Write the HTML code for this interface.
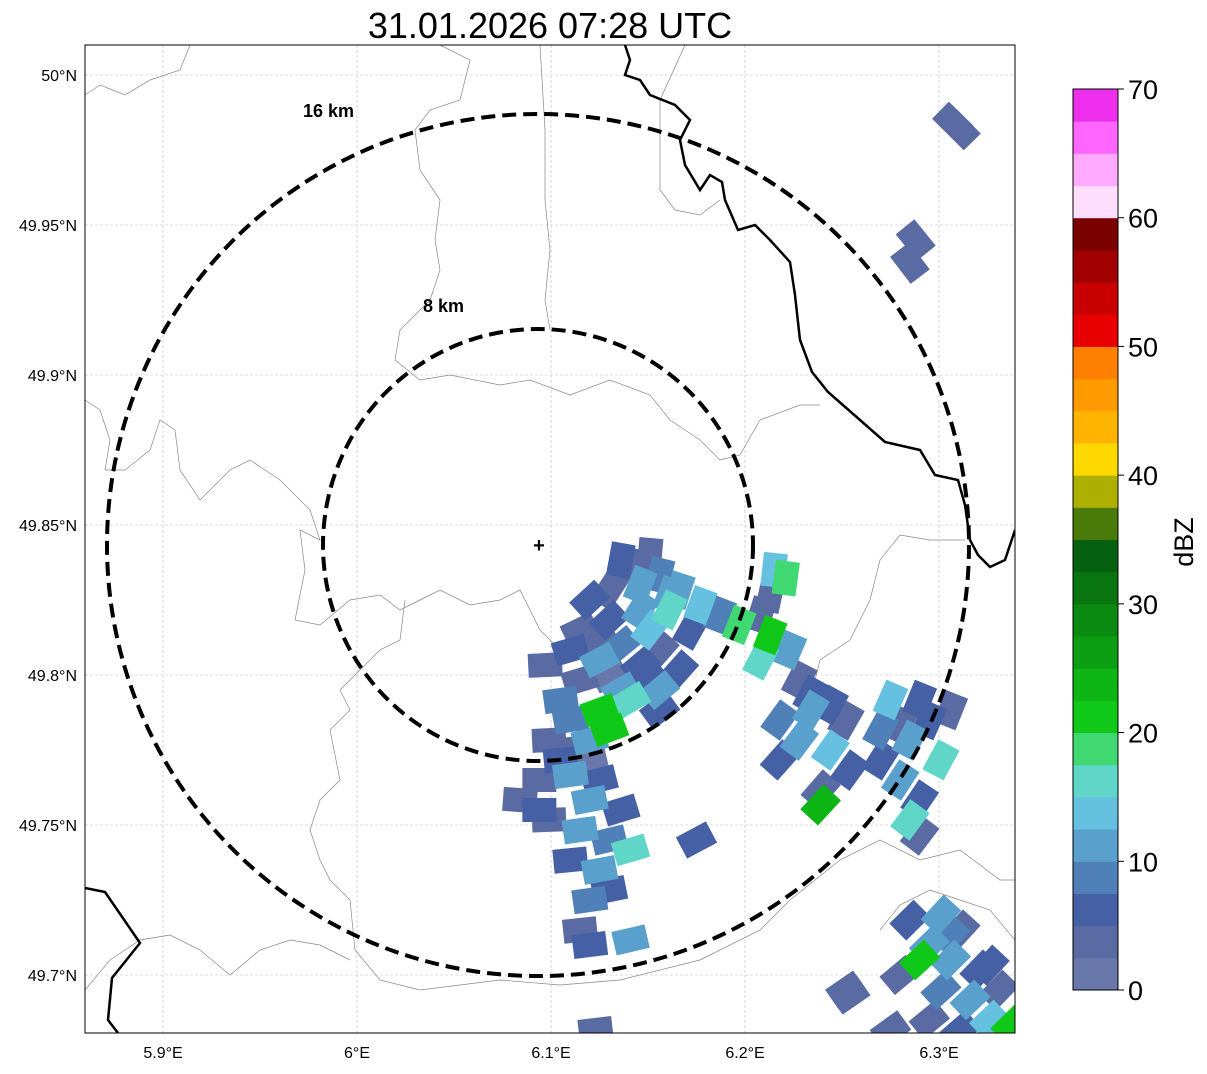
<!DOCTYPE html>
<html><head><meta charset="utf-8"><style>
body{margin:0;background:#fff;font-family:"Liberation Sans",sans-serif}
</style></head><body>
<svg id="chart" width="1207" height="1069" xmlns="http://www.w3.org/2000/svg" font-family="Liberation Sans, sans-serif">
<text x="550" y="38" text-anchor="middle" font-size="36">31.01.2026 07:28 UTC</text>
<defs><clipPath id="mapclip"><rect x="85" y="45" width="930" height="988"/></clipPath></defs>
<g id="grid"></g>
<g clip-path="url(#mapclip)">
<g fill="none" stroke="#888" stroke-width="0.7">
<polyline points="85,95 100,85 125,95 150,80 180,70 190,45"/>
<polyline points="440,45 470,60 460,100 430,110 415,130 420,170 440,200 435,240 440,270 430,300 400,330 395,360 420,380 450,375 500,385 530,380 570,395 610,380 650,395 670,420 700,440 720,460 740,455 760,420 800,405 820,405"/>
<polyline points="85,400 100,410 110,440 105,470 125,470 150,450 160,420 175,430 180,470 200,500 230,470 250,460 280,480 310,510 320,540 300,530 305,570 295,620 320,625 350,600 380,595 400,610 420,600 440,590 470,605 500,600 520,590 540,630 560,650"/>
<polyline points="405,600 400,640 380,650 340,690 350,710 330,730 340,780 320,800 310,830 320,860 330,880 350,900 355,950 380,980 420,990 460,985 500,980 560,985 620,980 700,960 760,930 790,900 840,860 880,840 920,860 960,850 1000,880 1015,880"/>
<polyline points="540,45 545,130 545,200 550,250 545,300 550,330"/>
<polyline points="85,990 110,960 140,940 170,935 200,950 230,975 260,950 290,940 320,945 350,960"/>
<polyline points="965,540 930,540 900,535 880,560 870,600 850,640 820,660 810,700"/>
<polyline points="1015,940 990,910 960,900 930,890 900,905 880,930"/>
<polyline points="685,45 660,100 660,190 675,210 700,215 720,200"/>
</g>
<g fill="none" stroke="#000" stroke-width="2.5">
<polyline points="625,45 630,60 625,75 640,80 650,95 675,105 690,120 680,140 685,165 700,190 710,175 722,182 725,200 738,230 755,225 770,240 790,262 795,295 800,340 812,372 828,392 860,420 885,442 920,450 935,475 958,480 965,505 970,540 978,555 990,567 1005,560 1015,530"/>
<polyline points="85,888 105,892 140,943 112,978 108,1020 118,1033"/>
</g>
<g id="cells"></g>
<g fill="none" stroke="#000" stroke-width="4" stroke-dasharray="14,7">
<ellipse cx="538" cy="545" rx="215" ry="216"/>
<ellipse cx="538" cy="545" rx="431" ry="431"/>
</g>
<text x="303" y="117" font-size="18" font-weight="bold">16 km</text>
<text x="423" y="312" font-size="18" font-weight="bold">8 km</text>
<text x="539" y="552" text-anchor="middle" font-size="20" font-weight="bold">+</text>
</g>
<rect x="85" y="45" width="930" height="988" fill="none" stroke="#000" stroke-width="1"/>
<g id="axes" font-size="16"></g>
<g id="cbar"></g>
<text transform="translate(1193,542) rotate(-90)" text-anchor="middle" font-size="27">dBZ</text>
</svg>
<script>
const lonTicks=[5.9,6.0,6.1,6.2,6.3];
const lonLabels=["5.9°E","6°E","6.1°E","6.2°E","6.3°E"];
const latTicks=[50,49.95,49.9,49.85,49.8,49.75,49.7];
const latLabels=["50°N","49.95°N","49.9°N","49.85°N","49.8°N","49.75°N","49.7°N"];
const cbTicks=[0,10,20,30,40,50,60,70];
const cbColors=["#6878aa","#5a6aa2","#4660a6","#5080b8","#5aa0cc","#66c0e0","#60d6c8","#40d870","#10c818","#0db515","#0c9e12","#0a8a10","#087510","#056010","#4a7a0a","#aeb000","#ffd800","#ffb400","#ff9a00","#ff7f00","#e80000","#c80000","#a00000","#7a0000","#ffddff","#ffaaff","#ff66ff","#ee30ee"];
const radarLon=6.094, radarLat=49.8433;
const cellLon=[6.136,6.151,6.156,6.146,6.130,6.120,6.166,6.177,6.187,6.161,6.146,6.130,6.115,6.151,6.172,6.136,6.156,6.125,6.146,6.166,6.115,6.136,6.156,6.125,6.141,6.110,6.099,6.120,6.130,6.156,6.105,6.097,
6.141,6.125,6.161,6.110,6.130,6.151,6.105,
6.197,6.213,6.223,6.208,6.228,6.244,6.218,6.228,6.218,6.244,6.254,6.239,6.234,6.252,6.215,6.221,6.213,6.208,6.234,
6.275,6.290,6.306,6.270,6.285,6.301,6.270,6.280,6.290,6.285,6.290,6.239,6.295,6.280,
6.094,6.110,6.125,6.120,6.136,6.099,6.115,6.130,6.141,6.110,6.125,6.130,6.120,6.115,6.120,6.141,6.094,6.084,6.105,6.120,
6.285,6.301,6.311,6.295,6.290,6.306,6.321,6.280,6.301,6.316,6.331,6.326,6.311,6.295,6.275,6.337,6.306,6.326,
6.307,6.311,6.288,6.285,6.175,6.254,6.123,6.252];
const cellLat=[49.8383,49.84,49.8333,49.83,49.8283,49.825,49.8283,49.8233,49.82,49.8217,49.8217,49.8183,49.815,49.815,49.815,49.81,49.8083,49.805,49.8033,49.8017,49.7983,49.795,49.795,49.7883,49.7917,49.785,49.7783,49.7783,49.7817,49.7883,49.775,49.8033,
49.8367,49.8117,49.8267,49.8083,49.8,49.7983,49.7917,
49.8167,49.8133,49.8083,49.805,49.7983,49.79,49.785,49.7783,49.7717,49.775,49.7683,49.7617,49.7883,49.785,49.835,49.8323,49.8267,49.82,49.7933,
49.7917,49.7917,49.7883,49.7817,49.7783,49.7717,49.7717,49.765,49.7583,49.7517,49.7467,49.7567,49.785,49.7833,
49.765,49.7667,49.765,49.7583,49.755,49.7517,49.7483,49.745,49.7417,49.7383,49.735,49.7283,49.725,49.715,49.71,49.7117,49.755,49.7583,49.7717,49.7717,
49.7183,49.72,49.715,49.71,49.705,49.705,49.7017,49.7,49.695,49.6917,49.695,49.685,49.6817,49.685,49.6817,49.6833,49.7133,49.7033,
49.9843,49.9817,49.945,49.9373,49.745,49.6933,49.6817,49.695];
const cellDbz=[5,3,8,12,4,6,10,14,9,16,12,5,4,13,6,8,3,11,7,5,4,10,12,21,15,8,3,12,22,6,4,3,
4,3,11,5,2,6,8,
18,20,10,16,4,5,8,11,5,14,6,3,12,3,14,19,4,3,6,
13,5,3,8,10,16,5,12,6,15,4,24,7,3,
4,11,5,10,6,4,12,8,15,5,11,6,9,4,5,12,5,3,6,2,
5,12,3,10,22,12,5,4,8,12,3,14,5,4,3,20,9,6,
4,3,3,3,5,3,4,3];
const NS="http://www.w3.org/2000/svg";
const X0=85,X1=1015,Y0=45,Y1=1033;
function xs(lon){return 163+(lon-5.9)*1940;}
function ys(lat){return 75+(50-lat)*3000;}
function mk(t,a,p){const e=document.createElementNS(NS,t);for(const k in a)e.setAttribute(k,a[k]);p.appendChild(e);return e;}
const grid=document.getElementById('grid'),axes=document.getElementById('axes');
lonTicks.forEach((v,i)=>{const x=xs(v);
const l=mk('line',{x1:x,x2:x,y1:Y0,y2:Y1,stroke:'#bbb','stroke-width':0.6,'stroke-dasharray':'3,2'},grid);

const t=mk('text',{x:x,y:1058,'text-anchor':'middle'},axes);t.textContent=lonLabels[i];
});
latTicks.forEach((v,i)=>{const y=ys(v);
const l=mk('line',{x1:X0,x2:X1,y1:y,y2:y,stroke:'#bbb','stroke-width':0.6,'stroke-dasharray':'3,2'},grid);

const t=mk('text',{x:77,y:y+6,'text-anchor':'end'},axes);t.textContent=latLabels[i];
});
function colorFor(d){return cbColors[Math.max(0,Math.min(27,Math.floor(d/2.5)))];}
const cells=document.getElementById('cells');
const order=cellDbz.map((d,i)=>i).sort((a,b)=>cellDbz[a]-cellDbz[b]);
order.forEach(i=>{const x=xs(cellLon[i]),y=ys(cellLat[i]);
const ang=Math.atan2(y-ys(radarLat),x-xs(radarLon))*180/Math.PI;
const r=mk('rect',{x:x-12,y:y-17,width:24,height:34,fill:colorFor(cellDbz[i]),transform:`rotate(${ang} ${x} ${y})`},cells);
});
const cb=document.getElementById('cbar');
const CX=1073,CW=45,CT=89,CB=990;
function cy(v){return CB-(v/70)*(CB-CT);}
cbColors.forEach((c,i)=>{const y1=cy((i+1)*2.5),y0=cy(i*2.5);
const r=mk('rect',{x:CX,y:y1,width:CW,height:y0-y1+0.5,fill:c},cb);
});
mk('rect',{x:CX,y:CT,width:CW,height:CB-CT,fill:'none',stroke:'#000','stroke-width':1},cb);
cbTicks.forEach(v=>{const y=cy(v);
mk('line',{x1:CX+CW,x2:CX+CW+6,y1:y,y2:y,stroke:'#000'},cb);
const t=mk('text',{x:CX+CW+10,y:y+10,'font-size':27},cb);t.textContent=v;
});
</script>
</body></html>
